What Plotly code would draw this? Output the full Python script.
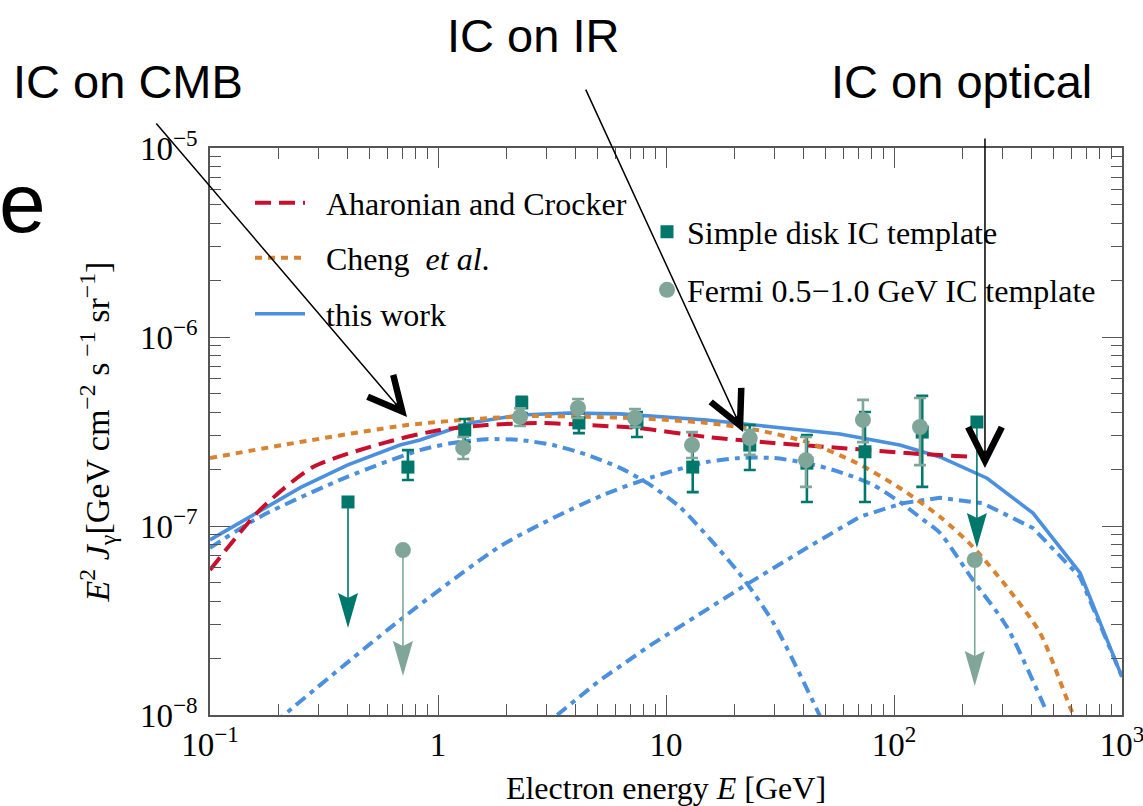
import numpy as np
import plotly.graph_objects as go

# ---------------- data ----------------
E_ac = [0.1, 0.166, 0.283, 0.597, 1.02, 1.64, 2.72, 4.51, 7.46, 15.1, 29.5, 57.9, 114, 222]
J_ac = [5.85e-8, 1.22e-7, 2.05e-7, 2.78e-7, 3.22e-7, 3.42e-7, 3.51e-7, 3.42e-7, 3.30e-7,
        2.96e-7, 2.75e-7, 2.59e-7, 2.43e-7, 2.32e-7]

E_cheng = [0.1, 0.248, 0.731, 1.64, 2.72, 4.51, 7.46, 15.1, 25.1, 41.5, 68.9, 106, 159, 222,
           313, 437, 592, 650]
J_cheng = [2.29e-7, 2.78e-7, 3.42e-7, 3.72e-7, 3.82e-7, 3.78e-7, 3.72e-7, 3.51e-7, 3.22e-7,
           2.78e-7, 2.15e-7, 1.59e-7, 1.12e-7, 7.75e-8, 4.75e-8, 2.72e-8, 1.10e-8, 8.5e-9]

E_tot = [0.1, 0.166, 0.25, 0.40, 0.681, 0.834, 1.38, 2.29, 3.79, 6.28, 15.1, 29.5, 57.9, 106,
         159, 256, 407, 655, 1000]
J_tot = [8.44e-8, 1.20e-7, 1.60e-7, 2.10e-7, 2.68e-7, 2.85e-7, 3.51e-7, 3.87e-7, 3.96e-7,
         3.92e-7, 3.64e-7, 3.34e-7, 3.07e-7, 2.68e-7, 2.32e-7, 1.79e-7, 1.17e-7, 5.64e-8, 1.59e-8]

E_cmb = [0.1, 0.166, 0.40, 0.834, 1.16, 1.64, 2.29, 3.19, 4.51, 6.28, 8.26, 11.5, 20.9, 29.8, 47.3]
J_cmb = [7.66e-8, 1.12e-7, 1.82e-7, 2.52e-7, 2.75e-7, 2.88e-7, 2.85e-7, 2.68e-7, 2.38e-7,
         2.03e-7, 1.69e-7, 1.26e-7, 5.64e-8, 3.03e-8, 9.9e-9]

E_ir = [0.19, 0.681, 1.87, 3.19, 5.30, 8.77, 15.1, 21.1, 29.5, 41.5, 57.9, 80.9, 106, 134,
        159, 222, 313, 469]
J_ir = [9.0e-9, 3.18e-8, 7.8e-8, 1.10e-7, 1.46e-7, 1.82e-7, 2.18e-7, 2.29e-7, 2.29e-7,
        2.15e-7, 1.93e-7, 1.65e-7, 1.34e-7, 1.08e-7, 9.2e-8, 5.18e-8, 2.92e-8, 1.03e-8]

E_opt = [3.33, 5.14, 8.59, 22.4, 42.8, 71.0, 109, 159, 245, 407, 655, 1000]
J_opt = [1.0e-8, 1.53e-8, 2.35e-8, 4.88e-8, 7.84e-8, 1.12e-7, 1.32e-7, 1.41e-7, 1.32e-7,
         9.75e-8, 5.37e-8, 1.59e-8]

# Simple disk IC template (squares)
sq_E = [0.738, 1.31, 2.33, 4.15, 7.46, 13.1, 23.3, 41.5, 74.6, 133]
sq_J = [2.05e-7, 3.22e-7, 4.48e-7, 3.51e-7, 3.55e-7, 2.05e-7, 2.68e-7, 2.15e-7, 2.47e-7, 3.14e-7]
sq_hi = [2.52e-7, 3.68e-7, 4.82e-7, 3.96e-7, 4.01e-7, 2.62e-7, 3.42e-7, 3.03e-7, 4.01e-7, 4.88e-7]
sq_lo = [1.75e-7, 2.78e-7, 3.96e-7, 3.10e-7, 2.96e-7, 1.51e-7, 1.98e-7, 1.34e-7, 1.34e-7, 1.61e-7]
sq_ul_E = [0.403, 231]
sq_ul_J = [1.34e-7, 3.55e-7]

# Fermi 0.5-1.0 GeV IC template (circles)
ci_E = [1.29, 2.29, 4.11, 7.31, 13.0, 23.3, 41.1, 73.1, 130]
ci_J = [2.59e-7, 3.78e-7, 4.21e-7, 3.73e-7, 2.68e-7, 2.92e-7, 2.23e-7, 3.64e-7, 3.34e-7]
ci_hi = [2.96e-7, 4.20e-7, 4.70e-7, 4.16e-7, 3.14e-7, 3.22e-7, 2.96e-7, 4.65e-7, 4.76e-7]
ci_lo = [2.26e-7, 3.38e-7, 3.73e-7, 3.34e-7, 2.29e-7, 2.38e-7, 1.61e-7, 2.78e-7, 2.10e-7]
ci_ul_E = [0.702, 226]
ci_ul_J = [7.46e-8, 6.61e-8]

x_tickvals = [0.1, 1, 10, 100, 1000]
x_ticktext = ["10<sup>−1</sup>", "1", "10", "10<sup>2</sup>", "10<sup>3</sup>"]
y_tickvals = [1e-8, 1e-7, 1e-6, 1e-5]
y_ticktext = ["10<sup>−8</sup>", "10<sup>−7</sup>", "10<sup>−6</sup>", "10<sup>−5</sup>"]

# ---------------- styling ----------------
RED = "#C8102E"
ORANGE = "#D9822F"
BLUE = "#4A90DE"
TEAL = "#00776B"
GREY = "#80A69A"
AXC = "#555555"
SERIF = "Liberation Serif, Times New Roman, serif"
SANS = "Liberation Sans, Arial, sans-serif"

UL_DROP = 4.64          # length of upper-limit arrows (factor in flux)
HEAD_LEN = 10 ** (35 / 189)
NOTCH = 10 ** (30 / 189)
HEAD_HW = 10 ** (10 / 228)

fig = go.Figure()

dashdot = "12px,6px,5px,6px"
for E, J in [(E_cmb, J_cmb), (E_ir, J_ir)]:
    fig.add_trace(go.Scatter(x=E, y=J, mode="lines", showlegend=False,
                             line=dict(color=BLUE, width=4, dash=dashdot, shape="spline",
                                       smoothing=0.7), hoverinfo="skip"))
fig.add_trace(go.Scatter(x=E_opt, y=J_opt, mode="lines", showlegend=False,
                         line=dict(color=BLUE, width=4, dash=dashdot), hoverinfo="skip"))

fig.add_trace(go.Scatter(x=E_tot, y=J_tot, mode="lines", name="&nbsp;&nbsp;this work",
                         legend="legend3", line=dict(color=BLUE, width=3.6)))
fig.add_trace(go.Scatter(x=E_ac, y=J_ac, mode="lines", name="&nbsp;&nbsp;Aharonian and Crocker",
                         legend="legend",
                         line=dict(color=RED, width=4, dash="16px,8px", shape="spline",
                                   smoothing=0.7)))
fig.add_trace(go.Scatter(x=E_cheng, y=J_cheng, mode="lines",
                         name="&nbsp;&nbsp;Cheng  <i>et al</i>.", legend="legend2",
                         line=dict(color=ORANGE, width=4, dash="7px,6px", shape="spline",
                                   smoothing=0.7)))


def upper_limits(E, J, color, symbol, size):
    E = np.asarray(E, float)
    J = np.asarray(J, float)
    tip = J / UL_DROP
    for e, j, t in zip(E, J, tip):
        fig.add_trace(go.Scatter(x=[e, e], y=[j, t * NOTCH], mode="lines", showlegend=False,
                                 line=dict(color=color, width=1.6), hoverinfo="skip"))
        fig.add_trace(go.Scatter(
            x=[e / HEAD_HW, e, e * HEAD_HW, e, e / HEAD_HW],
            y=[t * HEAD_LEN, t, t * HEAD_LEN, t * NOTCH, t * HEAD_LEN],
            mode="lines", fill="toself", fillcolor=color, line=dict(width=0, color=color),
            showlegend=False, hoverinfo="skip"))
    fig.add_trace(go.Scatter(x=E, y=J, mode="markers", showlegend=False,
                             marker=dict(symbol=symbol, size=size, color=color)))


upper_limits(sq_ul_E, sq_ul_J, TEAL, "square", 13)
upper_limits(ci_ul_E, ci_ul_J, GREY, "circle", 16)

sqJ = np.array(sq_J)
fig.add_trace(go.Scatter(
    x=sq_E, y=sq_J, mode="markers", name="Simple disk IC template", legend="legend4",
    marker=dict(symbol="square", size=13, color=TEAL),
    error_y=dict(type="data", array=np.array(sq_hi) - sqJ, arrayminus=sqJ - np.array(sq_lo),
                 color=TEAL, thickness=2.6, width=6)))
ciJ = np.array(ci_J)
fig.add_trace(go.Scatter(
    x=ci_E, y=ci_J, mode="markers", name="Fermi 0.5−1.0 GeV IC template", legend="legend5",
    marker=dict(symbol="circle", size=16, color=GREY),
    error_y=dict(type="data", array=np.array(ci_hi) - ciJ, arrayminus=ciJ - np.array(ci_lo),
                 color=GREY, thickness=2.6, width=6)))

axis_common = dict(
    type="log", showgrid=False, zeroline=False, showline=True, linecolor=AXC, linewidth=1.5,
    mirror="ticks", ticks="inside", ticklen=20, tickwidth=1.3, tickcolor=AXC,
    tickfont=dict(family=SERIF, size=33, color="black"), ticklabeloverflow="allow",
)

minor_x = [m * 10.0 ** d for d in range(-1, 3) for m in range(2, 10)]
minor_y = [m * 10.0 ** d for d in range(-8, -5) for m in range(2, 10)]

fig.update_xaxes(**axis_common, range=[-1, 3], tickvals=x_tickvals, ticktext=x_ticktext,
                 minor=dict(tickvals=minor_x, ticks="inside", ticklen=11, tickwidth=1.2,
                            tickcolor=AXC, showgrid=False),
                 title=dict(text="Electron energy <i>E</i> [GeV]", standoff=18,
                            font=dict(family=SERIF, size=32, color="black")))
fig.update_yaxes(**axis_common, range=[-8, -5], tickvals=y_tickvals, ticktext=y_ticktext,
                 minor=dict(tickvals=minor_y, ticks="inside", ticklen=11, tickwidth=1.2,
                            tickcolor=AXC, showgrid=False),
                 ticklabelstandoff=4,
                 title=dict(text="<i>E</i><sup>2</sup> <i>J</i><sub>γ</sub>[GeV cm<sup>−2</sup> s<sup> −1</sup> sr<sup>−1</sup>]",
                            standoff=20, font=dict(family=SERIF, size=34, color="black")))

L, R, T, B = 210, 21, 148, 91
W, H = 1143, 806
PW, PH = W - L - R, H - T - B


def px(x):
    return (x - L) / PW


def py(y):
    return (H - B - y) / PH


leg_font = dict(family=SERIF, size=32, color="black")


def legend_at(xp, yp, iw):
    return dict(x=px(xp), y=py(yp), xanchor="left", yanchor="middle",
                bgcolor="rgba(0,0,0,0)", font=leg_font, itemwidth=iw,
                tracegroupgap=0)


annotations = []
for text, xc, yc in [("IC on CMB", 128, 82), ("IC on IR", 533, 35), ("IC on optical", 961, 82)]:
    annotations.append(dict(text=text, x=px(xc), y=py(yc), xref="paper", yref="paper",
                            xanchor="center", yanchor="middle", showarrow=False,
                            font=dict(family=SANS, size=47, color="black")))
annotations.append(dict(text="e", x=px(48), y=py(203), xref="paper", yref="paper",
                        xanchor="right", yanchor="middle", showarrow=False,
                        font=dict(family=SANS, size=84, color="black")))

# pointer arrows (head given in data coords, log10 for log axes)
for hx, hy, ax, ay in [(-0.136, -6.423, -252, -295), (1.338, -6.503, -158, -344),
                       (2.399, -6.693, 0, -331)]:
    annotations.append(dict(text="", x=hx, y=hy, xref="x", yref="y", showarrow=True,
                            ax=ax, ay=ay, axref="pixel", ayref="pixel", arrowhead=5,
                            arrowsize=4.4, arrowwidth=1.5, arrowcolor="black", standoff=0))

fig.update_layout(
    width=W, height=H, margin=dict(l=L, r=R, t=T, b=B, autoexpand=False),
    paper_bgcolor="white", plot_bgcolor="white",
    font=dict(family=SERIF, color="black"),
    legend=legend_at(250, 203, 50),
    legend2=legend_at(250, 258, 50),
    legend3=legend_at(250, 314, 50),
    legend4=legend_at(647, 232, 30),
    legend5=legend_at(647, 290, 30),
    annotations=annotations,
)

fig.write_html("out.html")
